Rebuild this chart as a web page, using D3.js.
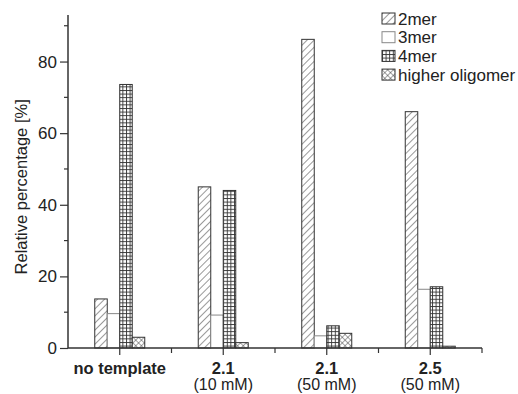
<!DOCTYPE html>
<html lang="en">
<head>
<meta charset="UTF-8">
<title>Relative percentage</title>
<style>
  body { margin: 0; background: #fff; }
  text { font-family: "Liberation Sans", Arial, sans-serif; fill: #222; }
</style>
</head>
<body>
<div id="chart"></div>
<script src="https://d3js.org/d3.v7.min.js"></script>
<script>
// data
const groups = ["no template", "2.1 (10 mM)", "2.1 (50 mM)", "2.5 (50 mM)"];
const groupMain = ["no template", "2.1", "2.1", "2.5"];
const groupSub = ["", "(10 mM)", "(50 mM)", "(50 mM)"];
const series = ["2mer", "3mer", "4mer", "higher oligomer"];
const val2mer = [13.7, 45, 86.2, 66];
const val3mer = [9.6, 9.2, 3.4, 16.4];
const val4mer = [73.6, 44, 6.2, 17.1];
const valHigher = [3, 1.5, 4.1, 0.5];
const yTicks = [0, 20, 40, 60, 80];

const values = [val2mer, val3mer, val4mer, valHigher];

const width = 518, height = 394;
const svg = d3.select("#chart").append("svg")
  .attr("width", width).attr("height", height);

// patterns
const defs = svg.append("defs");
const hatch = defs.append("pattern").attr("id", "p2mer")
  .attr("patternUnits", "userSpaceOnUse").attr("width", 5).attr("height", 5)
  .attr("patternTransform", "rotate(45)");
hatch.append("rect").attr("width", 5).attr("height", 5).attr("fill", "#fff");
hatch.append("line").attr("x1", 0).attr("y1", 0).attr("x2", 0).attr("y2", 5)
  .attr("stroke", "#444").attr("stroke-width", 1.1);

const grid = defs.append("pattern").attr("id", "p4mer")
  .attr("patternUnits", "userSpaceOnUse").attr("width", 3.6).attr("height", 3.6);
grid.append("rect").attr("width", 3.6).attr("height", 3.6).attr("fill", "#fff");
grid.append("path").attr("d", "M0,0.5H3.6M0.5,0V3.6")
  .attr("stroke", "#333").attr("stroke-width", 0.9);

const cross = defs.append("pattern").attr("id", "pHigh")
  .attr("patternUnits", "userSpaceOnUse").attr("width", 4).attr("height", 4)
  .attr("patternTransform", "rotate(45)");
cross.append("rect").attr("width", 4).attr("height", 4).attr("fill", "#fff");
cross.append("path").attr("d", "M0,0V4M0,0H4")
  .attr("stroke", "#333").attr("stroke-width", 0.9);

const fills = ["url(#p2mer)", "#fff", "url(#p4mer)", "url(#pHigh)"];
const strokes = ["#333", "#888", "#333", "#333"];

// scales
const x = d3.scaleBand().domain(groups).range([68, 482]).padding(0);
const y = d3.scaleLinear().domain([0, 93]).range([348, 15]);
const inner = d3.scaleBand().domain(series)
  .range([x.bandwidth() / 2 - 25, x.bandwidth() / 2 + 25]).padding(0);

// bars
series.forEach((s, si) => {
  svg.append("g").selectAll("rect")
    .data(values[si])
    .join("rect")
    .attr("x", (d, i) => x(groups[i]) + inner(s))
    .attr("y", d => y(d))
    .attr("width", inner.bandwidth())
    .attr("height", d => y(0) - y(d))
    .attr("fill", fills[si])
    .attr("stroke", strokes[si])
    .attr("stroke-width", 1);
});

// y axis
const yAxis = svg.append("g").attr("transform", "translate(68,0)");
yAxis.call(d3.axisLeft(y).tickValues(yTicks).tickSize(8).tickPadding(3))
  .call(g => g.select(".domain").remove());
yAxis.selectAll("text").attr("font-size", 17).style("fill", "#222");
yAxis.selectAll("line").attr("stroke", "#333").attr("stroke-width", 1.2);
yAxis.selectAll(".minor").data([10, 30, 50, 70, 90]).join("line")
  .attr("class", "minor")
  .attr("x1", -4).attr("x2", 0)
  .attr("y1", d => y(d)).attr("y2", d => y(d))
  .attr("stroke", "#333").attr("stroke-width", 1.2);
yAxis.append("line").attr("x1", 0).attr("x2", 0)
  .attr("y1", y(0)).attr("y2", 15)
  .attr("stroke", "#333").attr("stroke-width", 1.5);

svg.append("text")
  .attr("transform", "translate(27," + y(45) + ") rotate(-90)")
  .attr("text-anchor", "middle")
  .attr("font-size", 16.5)
  .text("Relative percentage [%]");

// x axis
const xAxis = svg.append("g");
xAxis.append("line").attr("x1", 68).attr("x2", 482)
  .attr("y1", y(0)).attr("y2", y(0))
  .attr("stroke", "#333").attr("stroke-width", 1.5);
xAxis.selectAll(".major").data(groups).join("line")
  .attr("class", "major")
  .attr("x1", d => x(d) + x.bandwidth() / 2).attr("x2", d => x(d) + x.bandwidth() / 2)
  .attr("y1", y(0)).attr("y2", y(0) + 7)
  .attr("stroke", "#333").attr("stroke-width", 1.2);
xAxis.selectAll(".minor").data(groups).join("line")
  .attr("class", "minor")
  .attr("x1", d => x(d) + x.bandwidth()).attr("x2", d => x(d) + x.bandwidth())
  .attr("y1", y(0)).attr("y2", y(0) + 5)
  .attr("stroke", "#333").attr("stroke-width", 1.2);

xAxis.selectAll(".lbl").data(groups).join("text")
  .attr("class", "lbl")
  .attr("x", d => x(d) + x.bandwidth() / 2)
  .attr("y", 374)
  .attr("text-anchor", "middle")
  .attr("font-size", 16.5)
  .attr("font-weight", "bold")
  .text((d, i) => groupMain[i]);
xAxis.selectAll(".sub").data(groups).join("text")
  .attr("class", "sub")
  .attr("x", d => x(d) + x.bandwidth() / 2)
  .attr("y", 390)
  .attr("text-anchor", "middle")
  .attr("font-size", 16)
  .text((d, i) => groupSub[i]);

// legend
const legend = svg.append("g").attr("transform", "translate(382,13)");
series.forEach((s, i) => {
  const row = legend.append("g").attr("transform", "translate(0," + (i * 18.7) + ")");
  row.append("rect").attr("x", 0).attr("y", 0).attr("width", 13).attr("height", 11)
    .attr("fill", fills[i]).attr("stroke", strokes[i]).attr("stroke-width", 1);
  row.append("text").attr("x", 16).attr("y", 11.5).attr("font-size", 17).text(s);
});
</script>
</body>
</html>
